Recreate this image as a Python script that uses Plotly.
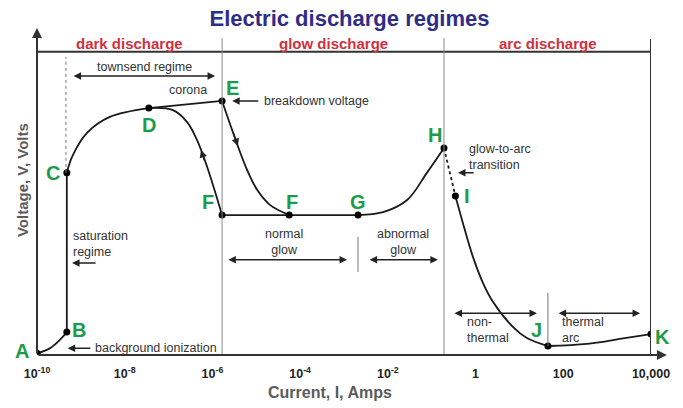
import plotly.graph_objects as go

FONT = "Liberation Sans, Arial, sans-serif"

# x is log10 of the current (Amps), y is voltage in arbitrary units (0-100)
tick_vals = [-10, -8, -6, -4, -2, 0, 2, 4]
tick_text = ["10<sup>-10</sup>", "10<sup>-8</sup>", "10<sup>-6</sup>", "10<sup>-4</sup>",
             "10<sup>-2</sup>", "1", "100", "10,000"]

# curve pieces
ab_x = [-10.0, -9.70, -9.48, -9.32]
ab_y = [0.5, 2.1, 4.6, 7.0]
bc_x = [-9.32, -9.32]
bc_y = [7.0, 55.7]
cd_x = [-9.32, -9.20, -8.86, -8.34, -7.45]
cd_y = [55.7, 60.6, 67.9, 72.8, 75.5]
de_x = [-7.45, -5.78]
de_y = [75.5, 77.7]
df_x = [-7.45, -6.90, -6.58, -6.35, -6.12, -5.78]
df_y = [75.5, 74.9, 71.3, 65.7, 57.5, 42.8]
ef_x = [-5.78, -5.21, -4.98, -4.69, -4.25]
ef_y = [77.7, 56.6, 50.5, 45.9, 42.8]
fg_x = [-5.78, -4.25, -2.68]
fg_y = [42.8, 42.8, 42.8]
gh_x = [-2.68, -2.11, -1.56, -1.11, -0.72]
gh_y = [42.8, 43.7, 47.4, 55.7, 63.3]
hi_x = [-0.72, -0.46]
hi_y = [63.3, 48.6]
ij_x = [-0.46, -0.29, -0.06, 0.17, 0.40, 0.85, 1.17, 1.65]
ij_y = [48.6, 40.4, 30.0, 22.0, 16.2, 8.6, 5.2, 2.75]
jk_x = [1.65, 2.54, 3.29, 4.0]
jk_y = [2.75, 3.4, 4.9, 6.4]

# labelled points
point_names = ["A", "B", "C", "D", "E", "F", "F", "G", "H", "I", "J", "K"]
point_x = [-10.0, -9.32, -9.32, -7.45, -5.78, -5.78, -4.25, -2.68, -0.72, -0.46, 1.65, 4.0]
point_y = [0.5, 7.0, 55.7, 75.5, 77.7, 42.8, 42.8, 42.8, 63.3, 48.6, 2.75, 6.4]

# regimes
regime_edges = [-10.0, -5.78, -0.72, 4.0]
regime_names = ["dark discharge", "glow discharge", "arc discharge"]

# label offsets (px) for the point letters
label_shift = [(-15, 2), (12, 2), (-14, 0), (0, -17), (10, 13), (-14, 13),
               (3, 13), (0, 13), (-9, 13), (12, 0), (-11, 16), (11, -3)]

fig = go.Figure()

curve_x, curve_y = [], []
for xs, ys in [(ab_x, ab_y), (bc_x, bc_y), (cd_x, cd_y), (de_x, de_y), (df_x, df_y),
               (ef_x, ef_y), (fg_x, fg_y), (gh_x, gh_y), (ij_x, ij_y), (jk_x, jk_y)]:
    curve_x += xs + [None]
    curve_y += ys + [None]

fig.add_trace(go.Scatter(x=curve_x, y=curve_y, mode="lines", connectgaps=False,
                         line=dict(color="#1a1a1a", width=1.8, shape="spline", smoothing=1.0),
                         hoverinfo="skip"))
fig.add_trace(go.Scatter(x=hi_x, y=hi_y, mode="lines",
                         line=dict(color="#1a1a1a", width=1.8, dash="dot"), hoverinfo="skip"))
fig.add_trace(go.Scatter(x=point_x, y=point_y, mode="markers",
                         marker=dict(color="black", size=7), hoverinfo="skip"))

# frame lines
fig.add_shape(type="line", x0=regime_edges[0], x1=regime_edges[-1], y0=92.7, y1=92.7,
              line=dict(color="#333", width=2))
for xe in regime_edges[1:-1]:
    fig.add_shape(type="line", x0=xe, x1=xe, y0=0, y1=96.9, line=dict(color="#8a8a8a", width=1))
fig.add_shape(type="line", x0=regime_edges[-1], x1=regime_edges[-1], y0=0, y1=96.6,
              line=dict(color="#333", width=2))
fig.add_shape(type="line", x0=-9.34, x1=-9.34, y0=55.7, y1=91.1,
              line=dict(color="#777", width=1, dash="dot"))
fig.add_shape(type="line", x0=-2.68, x1=-2.68, y0=25.4, y1=36.1, line=dict(color="#777", width=1))
fig.add_shape(type="line", x0=1.65, x1=1.65, y0=2.75, y1=19.0, line=dict(color="#777", width=1))

# axis arrows
fig.add_annotation(x=0, y=1, xref="paper", yref="paper", ax=0, ay=327, text="", showarrow=True,
                   arrowhead=2, arrowsize=1, arrowwidth=2, arrowcolor="#333", standoff=0)
fig.add_annotation(x=1.026, y=0, xref="paper", yref="paper", ax=-630, ay=0, text="", showarrow=True,
                   arrowhead=2, arrowsize=1, arrowwidth=2, arrowcolor="#333", standoff=0)


def text(x, y, s, anchor="center", **kw):
    fig.add_annotation(x=x, y=y, text=s, showarrow=False, xanchor=anchor, yanchor="middle",
                       align=anchor if anchor != "center" else "center",
                       font=dict(family=FONT, size=12.5, color="#333"), **kw)


def arrow(xh, yh, xt, yt, both=False):
    fig.add_annotation(x=xh, y=yh, ax=xt, ay=yt, axref="x", ayref="y", text="", showarrow=True,
                       arrowhead=2, startarrowhead=2, arrowsize=1, startarrowsize=1, arrowwidth=1.5,
                       arrowcolor="#222", arrowside="end+start" if both else "end",
                       standoff=0, startstandoff=0)


# regime labels
for i, name in enumerate(regime_names):
    fig.add_annotation(x=(regime_edges[i] + regime_edges[i + 1]) / 2, y=95.4, text="<b>%s</b>" % name,
                       showarrow=False, font=dict(family=FONT, size=15, color="#d1303c"))

# sub-regime notes
text(-7.54, 88.1, "townsend regime")
arrow(-5.94, 85.3, -9.20, 85.3, both=True)
text(-6.56, 81.0, "corona")
arrow(-5.55, 77.7, -4.92, 77.7)
text(-4.87, 77.7, "breakdown voltage", anchor="left")
text(-9.22, 33.9, "saturation<br>regime", anchor="left")
arrow(-9.20, 28.1, -8.63, 28.1)
arrow(-9.30, 2.1, -8.75, 2.1)
text(-8.72, 2.1, "background ionization", anchor="left")
text(-4.37, 34.6, "normal<br>glow")
arrow(-2.93, 29.1, -5.67, 29.1, both=True)
text(-1.65, 34.6, "abnormal<br>glow")
arrow(-0.86, 29.1, -2.45, 29.1, both=True)
text(-0.20, 60.6, "glow-to-arc<br>transition", anchor="left")
arrow(-0.40, 55.7, -0.01, 55.7)
text(-0.24, 7.6, "non-<br>thermal", anchor="left")
arrow(1.40, 12.8, -0.515, 12.8, both=True)
text(1.93, 7.6, "thermal<br>arc", anchor="left")
arrow(3.75, 12.8, 1.86, 12.8, both=True)

# direction arrows on the curve
arrow(-6.26, 62.7, -6.17, 59.0)
arrow(-5.42, 63.9, -5.53, 68.2)

# point letters
for name, px, py, (dx, dy) in zip(point_names, point_x, point_y, label_shift):
    fig.add_annotation(x=px, y=py, text="<b>%s</b>" % name, showarrow=False, xshift=dx, yshift=dy,
                       font=dict(family=FONT, size=20, color="#1e9b4a"))

# axis titles
fig.add_annotation(x=0.477, y=-0.116, xref="paper", yref="paper", text="<b>Current, I, Amps</b>",
                   xanchor="center", yanchor="middle",
                   showarrow=False, font=dict(family=FONT, size=16, color="#5b5b5b"))
fig.add_annotation(x=-0.0244, y=0.535, xref="paper", yref="paper", text="<b>Voltage, V, Volts</b>",
                   xanchor="center", yanchor="middle",
                   showarrow=False, textangle=-90, font=dict(family=FONT, size=15, color="#5b5b5b"))

# the page body adds an 8px margin, so the figure is 8px smaller than the window
fig.update_layout(
    width=675, height=400,
    margin=dict(l=29, r=32, t=20, b=53, autoexpand=False),
    paper_bgcolor="white", plot_bgcolor="white",
    showlegend=False,
    title=dict(text="<b>Electric discharge regimes</b>", x=0.5 + 4 / 675, xanchor="center",
               y=1 - 3 / 400, yanchor="top", pad=dict(t=0, b=0),
               font=dict(family=FONT, size=22, color="#2e2d88")),
    xaxis=dict(range=[-10, 4], tickvals=tick_vals, ticktext=tick_text, showgrid=False, zeroline=False,
               showline=False, ticks="outside", ticklen=7, tickcolor="rgba(0,0,0,0)",
               tickfont=dict(family=FONT, size=12.5, color="#222", weight="bold")),
    yaxis=dict(range=[0, 100], showgrid=False, zeroline=False, showline=False, showticklabels=False),
)

fig.write_html("out.html")
